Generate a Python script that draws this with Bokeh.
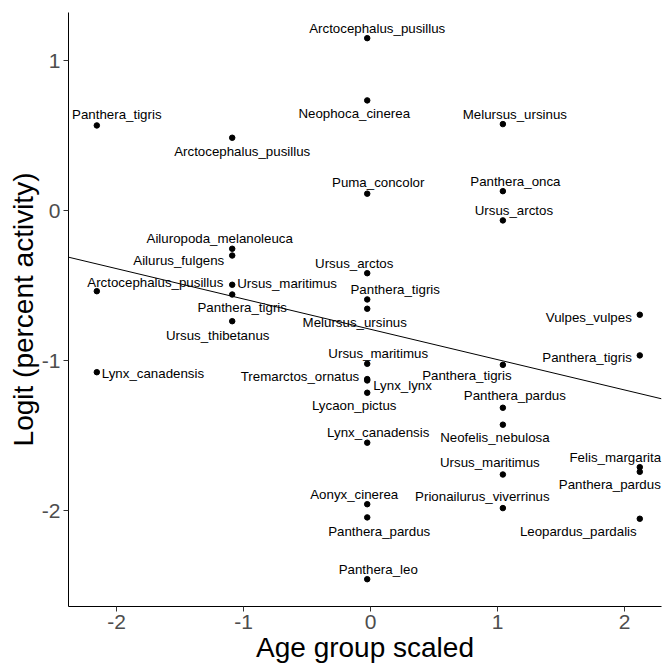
from bokeh.plotting import figure
from bokeh.models import ColumnDataSource, Range1d
from bokeh.core.properties import value
from bokeh.embed import file_html
from bokeh.resources import INLINE

# ---- data ----
species = [
    "Panthera_tigris", "Arctocephalus_pusillus", "Lynx_canadensis",
    "Arctocephalus_pusillus", "Ailuropoda_melanoleuca", "Ailurus_fulgens",
    "Ursus_maritimus", "Panthera_tigris", "Ursus_thibetanus",
    "Arctocephalus_pusillus", "Neophoca_cinerea", "Puma_concolor",
    "Ursus_arctos", "Panthera_tigris", "Melursus_ursinus",
    "Ursus_maritimus", "Tremarctos_ornatus", "Lynx_lynx",
    "Lycaon_pictus", "Lynx_canadensis", "Aonyx_cinerea",
    "Panthera_pardus", "Panthera_leo",
    "Melursus_ursinus", "Panthera_onca", "Ursus_arctos",
    "Panthera_tigris", "Panthera_pardus", "Neofelis_nebulosa",
    "Ursus_maritimus", "Prionailurus_viverrinus",
    "Vulpes_vulpes", "Panthera_tigris", "Felis_margarita",
    "Panthera_pardus", "Leopardus_pardalis",
]
age_scaled = (
    [-2.155] * 3 + [-1.089] * 6 + [-0.026] * 14 + [1.042] * 8 + [2.12] * 5
)
logit_activity = [
    0.57, -0.535, -1.075,
    0.488, -0.252, -0.297, -0.492, -0.557, -0.735,
    1.152, 0.737, 0.115, -0.415, -0.59, -0.652, -1.019, -1.121, -1.13,
    -1.212, -1.545, -1.955, -2.043, -2.455,
    0.579, 0.132, -0.063, -1.026, -1.312, -1.425, -1.757, -1.981,
    -0.692, -0.963, -1.708, -1.739, -2.052,
]
fit_intercept = -0.789
fit_slope = -0.2022
x_ticks = [-2, -1, 0, 1, 2]
y_ticks = [-2, -1, 0, 1]
tick_text = {-2: "-2", -1: "-1", 0: "0", 1: "1", 2: "2"}

# ---- label layout (screen px offsets from each point) ----
label_align = [
    "center", "center", "left",
    "center", "center", "right", "left", "center", "center",
    "center", "center", "center", "center", "center", "center", "center",
    "right", "left", "center", "center", "center", "center", "center",
    "center", "center", "center", "center", "center", "center", "center", "center",
    "right", "right", "center", "center", "center",
]
label_dx = [
    20, 58.5, 5,
    10, -12.5, -8, 5, 10, -14.5,
    10, -13, 11, -13, 28, -12.5, 11, -8, 6, -13, 11, -13, 12, 11,
    12, 12.5, 11, -36, 12, -8, -13, -20.5,
    -8, -8, -24.5, -30, -61.5,
]
label_dy = [
    -11, -9, 1,
    14, -10, 5, -1, 13, 14,
    -10, 13, -11, -10, -10, 14, -10, -3, 5, 13, -10, -10, 14, -10,
    -10, -10, -10, 11, -12, 13, -12, -12,
    3, 2, -10, 13, 13,
]

x_lo, x_hi = -2.378, 2.291
y_lo, y_hi = -2.637, 1.323

src = ColumnDataSource(dict(
    x=age_scaled, y=logit_activity, name=species,
    align=label_align, dx=label_dx, dy=label_dy,
))

p = figure(
    width=662, height=669,
    x_range=Range1d(x_lo, x_hi), y_range=Range1d(y_lo, y_hi),
    output_backend="svg", toolbar_location=None,
    min_border_left=68, min_border_right=1,
    min_border_top=12, min_border_bottom=63,
)
p.grid.visible = False
p.outline_line_color = None
p.background_fill_color = "white"

fit_x = [x_lo, x_hi]
fit_y = [fit_intercept + fit_slope * v for v in fit_x]
p.line(fit_x, fit_y, line_color="black", line_width=1)

p.scatter("x", "y", source=src, size=5.5, color="black")
p.text(
    x="x", y="y", text="name", source=src,
    x_offset="dx", y_offset="dy", text_align="align",
    text_baseline="middle", text_font=value("Liberation Sans"),
    text_font_size="13.3px", text_color="black",
)

for ax in (p.xaxis[0], p.yaxis[0]):
    ax.axis_line_color = "black"
    ax.axis_line_width = 1
    ax.major_tick_line_color = "#333333"
    ax.major_tick_in = 0
    ax.major_tick_out = 5
    ax.minor_tick_line_color = None
    ax.major_label_text_font = "Liberation Sans"
    ax.major_label_text_font_size = "21px"
    ax.major_label_text_color = "#4D4D4D"
    ax.major_label_standoff = 3
    ax.major_label_text_line_height = 1.0
    ax.axis_label_text_font = "Liberation Sans"
    ax.axis_label_text_font_size = "28px"
    ax.axis_label_text_font_style = "normal"
    ax.axis_label_text_color = "black"
    ax.axis_label_standoff = 0
    ax.axis_label_text_line_height = 1.0
    ax.major_label_overrides = tick_text

p.xaxis.ticker = x_ticks
p.yaxis.ticker = y_ticks
p.xaxis.axis_label = "Age group scaled"
p.yaxis.axis_label = "Logit (percent activity)"

open("out.html", "w").write(file_html(p, INLINE))
